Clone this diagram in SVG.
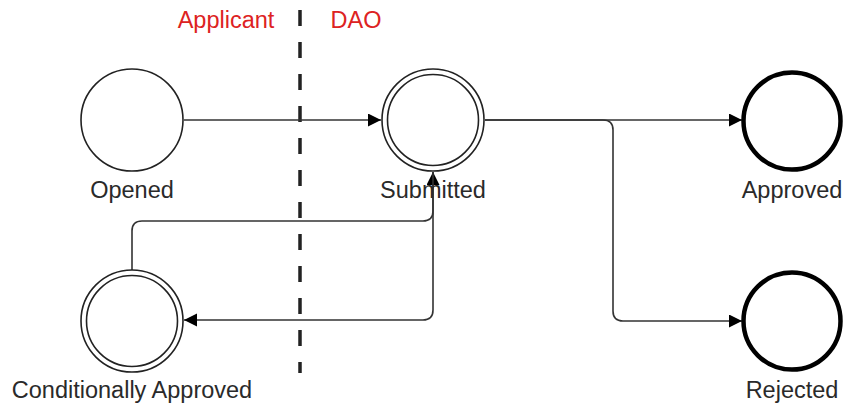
<svg xmlns="http://www.w3.org/2000/svg" width="843" height="407" viewBox="0 0 843 407">
  <style>
    .lbl { font-family: "Liberation Sans", Arial, sans-serif; font-size: 23.5px; fill: #2a2a2a; text-anchor: middle; }
    .lane { font-family: "Liberation Sans", Arial, sans-serif; font-size: 23.5px; fill: #dd2222; text-anchor: middle; }
    .thin { fill: #fff; stroke: #222; stroke-width: 1.6; }
    .thick { fill: #fff; stroke: #000; stroke-width: 4.5; }
    .conn { fill: none; stroke: #333; stroke-width: 1.6; }
  </style>
  <defs>
    <marker id="arr" markerUnits="userSpaceOnUse" markerWidth="14" markerHeight="14" refX="13" refY="6.5" orient="auto">
      <path d="M0,0 L13,6.5 L0,13 z" fill="#000"/>
    </marker>
  </defs>
  <rect width="843" height="407" fill="#fff"/>

  <g id="lanes">
    <line x1="300" y1="10" x2="300" y2="373" stroke="#222" stroke-width="3.5" stroke-dasharray="16 16"/>
    <text class="lane" x="226" y="28">Applicant</text>
    <text class="lane" x="356" y="28">DAO</text>
  </g>

  <g id="connectors">
    <path class="conn" d="M184,120 H381" marker-end="url(#arr)"/>
    <path class="conn" d="M485,120 H742" marker-end="url(#arr)"/>
    <path class="conn" d="M485,120 H603 Q613,120 613,130 V311 Q613,321 623,321 H742" marker-end="url(#arr)"/>
    <path class="conn" d="M132,270 V231 Q132,221 142,221 H423 Q433,221 433,211 V172" marker-end="url(#arr)"/>
    <path class="conn" d="M433,172 V310 Q433,320 423,320 H184" marker-end="url(#arr)"/>
  </g>

  <g id="opened">
    <circle class="thin" cx="132" cy="120" r="51"/>
    <text class="lbl" x="132" y="198">Opened</text>
  </g>
  <g id="submitted">
    <circle class="thin" cx="433" cy="120" r="51"/>
    <circle class="thin" cx="433" cy="120" r="45.5"/>
    <text class="lbl" x="433" y="198">Submitted</text>
  </g>
  <g id="approved">
    <circle class="thick" cx="792" cy="121" r="48.5"/>
    <text class="lbl" x="792" y="198">Approved</text>
  </g>
  <g id="rejected">
    <circle class="thick" cx="792" cy="321" r="48.5"/>
    <text class="lbl" x="792" y="398">Rejected</text>
  </g>
  <g id="conditionally-approved">
    <circle class="thin" cx="132" cy="321" r="51"/>
    <circle class="thin" cx="132" cy="321" r="45.5"/>
    <text class="lbl" x="132" y="398">Conditionally Approved</text>
  </g>
</svg>
